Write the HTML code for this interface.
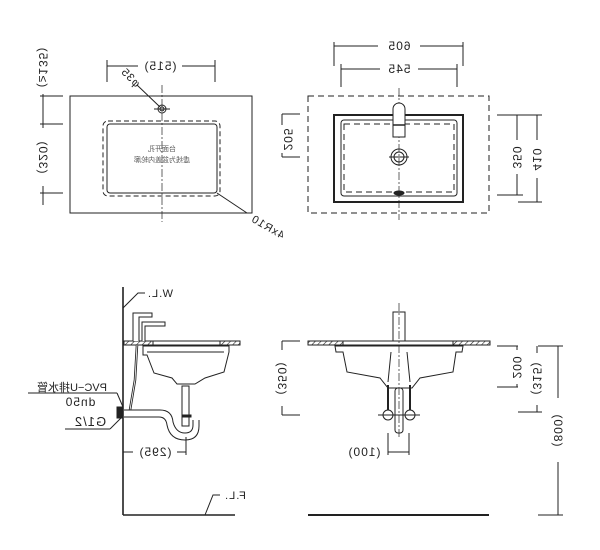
<!DOCTYPE html>
<html><head><meta charset="utf-8"><style>
html,body{margin:0;padding:0;background:#fff;width:600px;height:550px;overflow:hidden}
svg{display:block}
text{font-family:"Liberation Sans","Noto Sans CJK SC",sans-serif;fill:#222}
</style></head><body>
<svg width="600" height="550" viewBox="0 0 600 550" xmlns="http://www.w3.org/2000/svg">
<defs>
<pattern id="h" width="4" height="4" patternUnits="userSpaceOnUse" patternTransform="rotate(45)">
<line x1="0" y1="0" x2="0" y2="4" stroke="#222" stroke-width="1.2"/></pattern>
</defs>
<g stroke="#222" fill="none" stroke-width="1">
<!-- TOP LEFT -->
<rect x="70" y="96" width="182" height="117"/>
<rect x="103" y="121" width="117" height="75" rx="5" stroke-dasharray="5,3"/>
<rect x="107" y="124" width="110" height="69" rx="3"/>
<line x1="162" y1="85" x2="162" y2="222" stroke-dasharray="8,2,2,2" stroke-width="0.7"/>
<circle cx="162" cy="109" r="4"/><circle cx="162" cy="109" r="2"/>
<line x1="154" y1="109" x2="170" y2="109"/>
<line x1="107" y1="66" x2="215" y2="66"/><line x1="107" y1="60" x2="107" y2="82"/><line x1="215" y1="60" x2="215" y2="82"/>
<line x1="137" y1="85" x2="160" y2="107"/>
<line x1="217" y1="193" x2="247" y2="213"/>
<line x1="43" y1="45" x2="43" y2="205"/>
<line x1="40" y1="96" x2="63" y2="96"/><line x1="40" y1="124" x2="63" y2="124"/><line x1="40" y1="193" x2="63" y2="193"/>
<line x1="282" y1="114" x2="282" y2="157"/><line x1="282" y1="114" x2="300" y2="114"/><line x1="282" y1="157" x2="300" y2="157"/>
<!-- TOP RIGHT -->
<rect x="308" y="96" width="181" height="117" stroke-dasharray="6,4"/>
<rect x="334" y="115" width="129" height="87" stroke-width="2"/>
<rect x="341" y="120" width="116" height="76" rx="3"/>
<rect x="344" y="124" width="110" height="68" stroke-dasharray="6,4"/>
<line x1="399" y1="88" x2="399" y2="220" stroke-dasharray="8,2,2,2" stroke-width="0.7"/>
<path d="M393 137 V109 a6 6 0 0 1 12 0 V137 Z" fill="#fff"/>
<line x1="393" y1="125" x2="405" y2="125" stroke-width="1.5"/>
<circle cx="399" cy="157" r="8"/><circle cx="399" cy="157" r="5"/>
<line x1="389" y1="157" x2="409" y2="157"/>
<ellipse cx="399" cy="193" rx="5" ry="2" fill="#222"/>
<line x1="334" y1="46" x2="463" y2="46"/><line x1="334" y1="42" x2="334" y2="66"/><line x1="463" y1="42" x2="463" y2="66"/>
<line x1="341" y1="69" x2="457" y2="69"/><line x1="341" y1="64" x2="341" y2="87"/><line x1="457" y1="64" x2="457" y2="87"/>
<line x1="517" y1="115" x2="517" y2="195"/><line x1="497" y1="115" x2="523" y2="115"/><line x1="497" y1="195" x2="523" y2="195"/>
<line x1="537" y1="115" x2="537" y2="202"/><line x1="518" y1="202" x2="542" y2="202"/><line x1="518" y1="115" x2="542" y2="115"/>
<!-- BOTTOM LEFT -->
<line x1="123" y1="287" x2="123" y2="515" stroke-width="1.6"/>
<line x1="123" y1="515" x2="235" y2="515" stroke-width="1.6"/>
<polyline points="123,308 138,293 145,293"/>
<polyline points="205,515 213,495 220,495"/>
<rect x="124" y="341" width="116" height="4" fill="#fff"/>
<rect x="124" y="341" width="29" height="4" fill="url(#h)"/><rect x="220" y="341" width="20" height="4" fill="url(#h)"/>
<line x1="153" y1="341" x2="220" y2="341" stroke-dasharray="5,3"/>
<path d="M133 341 V313 H152 V317 H139 V341" fill="#fff"/>
<path d="M142 341 V322 H165 V326 H145 V341" fill="#fff"/>
<path d="M143 346 H229 V352 L224 372 L205 378 L195 384 H177 L172 378 L154 373 L147 355 H143 Z" fill="#fff"/>
<path d="M147 352 H224"/>
<path d="M137 345 L135 380 L130 410" stroke-width="2.5"/>
<path d="M137 345 L135 380 L130 410" stroke="#fff" stroke-width="0.8"/>
<rect x="182" y="386" width="7" height="40" fill="#fff"/>
<path d="M124 410 H160 Q172 410 173 422 Q176 433 185 433 Q193 433 193 425 V420"/>
<path d="M124 417 H159 Q166 417 167 425 Q170 440 185 440 Q199 440 199 426 V420"/>
<rect x="183" y="415" width="8" height="2" fill="#222"/>
<rect x="117" y="407" width="6" height="11" fill="#222"/>
<line x1="28" y1="393" x2="117" y2="393"/><line x1="117" y1="393" x2="123" y2="407"/>
<line x1="65" y1="429" x2="110" y2="429"/><line x1="110" y1="429" x2="123" y2="416"/>
<line x1="123" y1="452" x2="186" y2="452"/><line x1="186" y1="437" x2="186" y2="455"/>
<line x1="282" y1="341" x2="282" y2="415"/><line x1="282" y1="341" x2="300" y2="341"/><line x1="282" y1="415" x2="300" y2="415"/>
<!-- BOTTOM RIGHT -->
<rect x="308" y="341" width="182" height="4" fill="#fff"/>
<rect x="308" y="341" width="35" height="4" fill="url(#h)"/><rect x="453" y="341" width="37" height="4" fill="url(#h)"/>
<line x1="343" y1="341" x2="453" y2="341" stroke-dasharray="5,3"/>
<rect x="393" y="312" width="12" height="29" fill="#fff"/>
<path d="M335 346 H463 L462 352 H456 L453 372 L420 378 L412 388 H388 L380 378 L347 372 L343 352 H336 Z" fill="#fff"/>
<path d="M391 352 L388 382 M407 352 L410 382"/>
<path d="M388 385 V415 M410 385 V415" stroke-width="2"/>
<rect x="395" y="388" width="8" height="45" rx="3" fill="#fff"/>
<circle cx="388" cy="415" r="5" fill="#fff"/><circle cx="410" cy="415" r="5" fill="#fff"/>
<line x1="378" y1="415" x2="420" y2="415"/>
<line x1="399" y1="303" x2="399" y2="438" stroke-dasharray="8,2,2,2" stroke-width="0.7"/>
<line x1="388" y1="433" x2="388" y2="455"/><line x1="409" y1="433" x2="409" y2="455"/><line x1="388" y1="452" x2="409" y2="452"/>
<line x1="517" y1="346" x2="517" y2="387"/><line x1="497" y1="346" x2="518" y2="346"/><line x1="497" y1="387" x2="518" y2="387"/>
<line x1="537" y1="346" x2="537" y2="412"/><line x1="518" y1="412" x2="542" y2="412"/>
<line x1="558" y1="346" x2="558" y2="515"/><line x1="538" y1="346" x2="563" y2="346"/><line x1="538" y1="515" x2="563" y2="515"/>
<line x1="308" y1="515" x2="489" y2="515" stroke-width="2"/>
</g>
<!-- white gaps behind text -->
<g fill="#fff">
<rect x="138" y="59" width="44" height="14"/><rect x="378" y="39" width="42" height="14"/><rect x="380" y="62" width="38" height="14"/>
<rect x="36" y="40" width="14" height="54"/><rect x="36" y="128" width="14" height="58"/><rect x="280" y="125" width="14" height="28"/>
<rect x="510" y="140" width="14" height="34"/><rect x="530" y="140" width="14" height="38"/>
<rect x="133" y="445" width="44" height="14"/><rect x="275" y="350" width="14" height="56"/>
<rect x="510" y="350" width="14" height="34"/><rect x="530" y="353" width="14" height="52"/><rect x="551" y="398" width="14" height="64"/>
</g>
<g font-size="12" text-anchor="middle" letter-spacing="1">
<text transform="translate(160,70) scale(-1,1)">(515)</text>
<text transform="translate(399,50) scale(-1,1)">605</text>
<text transform="translate(399,73) scale(-1,1)">545</text>
<text transform="translate(128,80) rotate(-135) scale(1,-1)" font-size="11">φ35</text>
<text transform="translate(266,230) rotate(-150) scale(1,-1)" font-size="11">4xR10</text>
<text transform="translate(39,67) rotate(90) scale(-1,1)">(≥135)</text>
<text transform="translate(39,157) rotate(90) scale(-1,1)">(320)</text>
<text transform="translate(284,139) rotate(90) scale(-1,1)">205</text>
<text transform="translate(513,157) rotate(90) scale(-1,1)">350</text>
<text transform="translate(533,159) rotate(90) scale(-1,1)">410</text>
<text transform="translate(155,456) scale(-1,1)">(295)</text>
<text transform="translate(364,456) scale(-1,1)">(100)</text>
<text transform="translate(278,378) rotate(90) scale(-1,1)">(350)</text>
<text transform="translate(513,367) rotate(90) scale(-1,1)">200</text>
<text transform="translate(533,378) rotate(90) scale(-1,1)">(315)</text>
<text transform="translate(554,430) rotate(90) scale(-1,1)">(800)</text>
<text transform="translate(160,297) scale(-1,1)" font-size="11">W.L.</text>
<text transform="translate(235,499) scale(-1,1)" font-size="11">F.L.</text>
<text transform="translate(72,391) scale(-1,1)" font-size="11" letter-spacing="0">PVC−U排水管</text>
<text transform="translate(80,406) scale(-1,1)" font-size="12">dn50</text>
<text transform="translate(90,426) scale(-1,1)" font-size="13">G1/2</text>
<text transform="translate(162,151) scale(-1,1)" font-size="7" letter-spacing="0" style="fill:#555">台面开孔</text>
<text transform="translate(162,162) scale(-1,1)" font-size="7" letter-spacing="0" style="fill:#555">虚线为盆盖内轮廓</text>
</g>
</svg>
</body></html>
